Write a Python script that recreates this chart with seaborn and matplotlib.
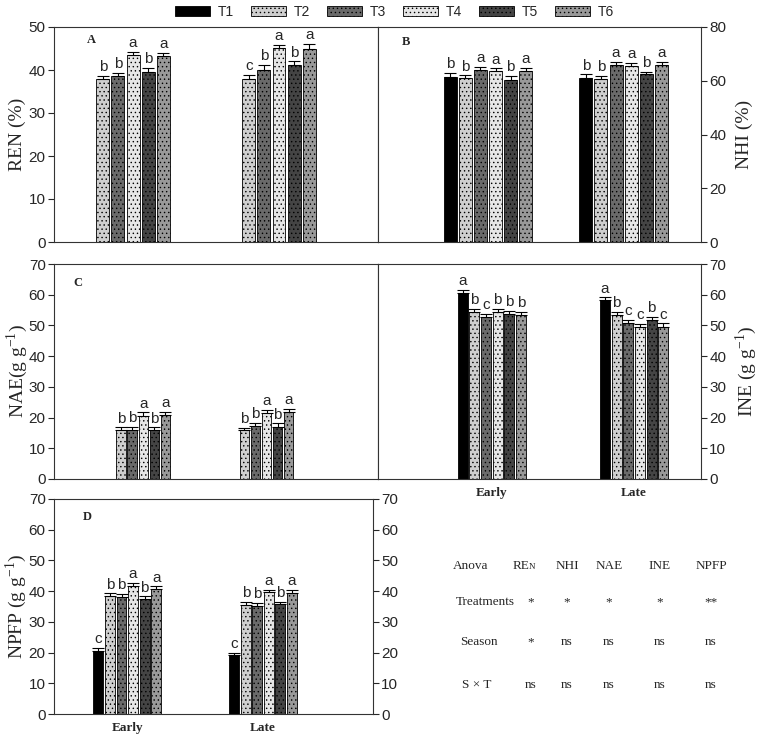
import matplotlib
matplotlib.use("Agg")
import matplotlib.pyplot as plt
import matplotlib.patches as mpatches
import pandas as pd
import seaborn as sns

seasons = ["Early", "Late"]
treatments = ["T1", "T2", "T3", "T4", "T5", "T6"]

# A: recovery efficiency of N (%)
ren_early = [0, 37.9, 38.5, 43.4, 39.5, 43.2]
ren_late = [0, 37.9, 40.1, 45.1, 41.1, 44.8]
ren_err_early = [0, 0.8, 0.9, 0.9, 1.0, 0.8]
ren_err_late = [0, 1.0, 1.1, 0.8, 0.9, 1.3]
ren_let_early = ["", "b", "b", "a", "b", "a"]
ren_let_late = ["", "c", "b", "a", "b", "a"]

# B: N harvest index (%)
nhi_early = [61.4, 61.1, 64.0, 63.8, 60.3, 63.8]
nhi_late = [61.1, 60.8, 65.9, 65.6, 62.4, 65.8]
nhi_err_early = [1.5, 0.9, 1.1, 0.8, 1.4, 1.1]
nhi_err_late = [1.3, 1.1, 1.0, 1.1, 1.0, 1.2]
nhi_let_early = ["b", "b", "a", "a", "b", "a"]
nhi_let_late = ["b", "b", "a", "a", "b", "a"]

# C: agronomic efficiency of N
nae_early = [0, 15.9, 16.1, 20.4, 15.9, 20.7]
nae_late = [0, 15.9, 17.2, 21.4, 16.8, 21.9]
nae_err_early = [0, 0.9, 0.8, 1.3, 0.9, 1.1]
nae_err_late = [0, 0.8, 1.0, 1.2, 1.3, 1.0]
nae_let_early = ["", "b", "b", "a", "b", "a"]
nae_let_late = ["", "b", "b", "a", "b", "a"]

# internal N efficiency
ine_early = [60.5, 54.3, 52.9, 54.4, 53.7, 53.4]
ine_late = [58.3, 53.4, 50.7, 49.6, 51.8, 49.6]
ine_err_early = [1.0, 1.1, 0.8, 0.9, 1.0, 1.1]
ine_err_late = [0.8, 1.1, 1.1, 0.8, 1.1, 1.1]
ine_let_early = ["a", "b", "c", "b", "b", "b"]
ine_let_late = ["a", "b", "c", "c", "b", "c"]

# D: partial factor productivity of N
npfp_early = [20.4, 38.3, 38.1, 41.6, 37.5, 40.6]
npfp_late = [19.3, 35.6, 35.3, 39.6, 35.7, 39.4]
npfp_err_early = [1.1, 1.0, 1.0, 1.2, 0.8, 1.0]
npfp_err_late = [0.6, 1.0, 1.0, 0.9, 0.8, 1.0]
npfp_let_early = ["c", "b", "b", "a", "b", "a"]
npfp_let_late = ["c", "b", "b", "a", "b", "a"]

anova_cols = ["NHI", "NAE", "INE", "NPFP"]
anova_rows = ["Treatments", "Season", "S \u00d7 T"]
anova_vals = [
    ["*", "*", "*", "*", "**"],
    ["*", "ns", "ns", "ns", "ns"],
    ["ns", "ns", "ns", "ns", "ns"],
]

colors = ["#000000", "#cfcfcf", "#6a6a6a", "#e6e6e6", "#444444", "#999999"]
hatches = [None, "....", "....", "....", "....", "...."]

sns.set_style("ticks")
plt.rcParams["font.family"] = ["Liberation Sans", "DejaVu Sans"]
plt.rcParams["mathtext.fontset"] = "custom"
plt.rcParams["mathtext.rm"] = "Liberation Serif"
plt.rcParams["hatch.linewidth"] = 0.5
SERIF = "Liberation Serif"

fig = plt.figure(figsize=(7.59, 7.35), dpi=100)


def px_axes(l, t, r, b):
    W, H = 759, 735
    return fig.add_axes([l / W, 1 - b / H, (r - l) / W, (b - t) / H])


def ylabel(ax, x, text):
    ax.text(x, 0.5, text, transform=ax.transAxes, rotation=90, ha="center",
            va="center", fontsize=14, family=SERIF)


def draw_panel(ax, early, late, err_e, err_l, let_e, let_l, width, xlim, ymax, step):
    df = pd.DataFrame({
        "season": [seasons[0]] * 6 + [seasons[1]] * 6,
        "treatment": treatments * 2,
        "value": early + late,
    })
    sns.barplot(data=df, x="season", y="value", hue="treatment", order=seasons,
                hue_order=treatments, palette=colors, width=width, gap=0.14,
                edgecolor="black", linewidth=0.6, errorbar=None, legend=False, ax=ax)
    errs = [err_e, err_l]
    lets = [let_e, let_l]
    vals = [early, late]
    bar_conts = list(ax.containers)
    for i, cont in enumerate(bar_conts):
        for j, p in enumerate(cont.patches):
            if hatches[i]:
                p.set_hatch(hatches[i])
            v = vals[j][i]
            if v <= 0:
                continue
            xc = p.get_x() + p.get_width() / 2
            e = errs[j][i]
            ax.errorbar(xc, v, yerr=[[0], [e]], fmt="none", ecolor="black",
                        elinewidth=0.8, capsize=4, capthick=0.8)
            ax.text(xc, v + e + ymax * 0.008, lets[j][i], ha="center", va="bottom",
                    fontsize=11)
    ax.set_xlim(*xlim)
    ax.set_ylim(0, ymax)
    ax.set_yticks(range(0, ymax + 1, step))
    ax.set_xlabel("")
    ax.set_ylabel("")
    ax.tick_params(axis="x", bottom=False, labelbottom=False)
    ax.tick_params(axis="y", labelsize=11, length=4, width=0.8, pad=2)
    for s in ax.spines.values():
        s.set_visible(True)
        s.set_linewidth(0.8)
        s.set_color("#333333")


def bold_xlabels(ax):
    ax.tick_params(axis="x", labelbottom=True, pad=2)
    for lab in ax.get_xticklabels():
        lab.set_fontfamily(SERIF)
        lab.set_fontweight("bold")
        lab.set_fontsize(9.5)


# panel A
axA = px_axes(54, 27, 378, 242)
draw_panel(axA, ren_early, ren_late, ren_err_early, ren_err_late, ren_let_early, ren_let_late,
           0.62, (-0.49, 1.73), 50, 10)
ylabel(axA, -0.113, "REN (%)")
axA.text(0.1, 0.925, "A", transform=axA.transAxes, fontsize=9, fontweight="bold", family=SERIF)

# panel B
axB = px_axes(378, 27, 701, 242)
draw_panel(axB, nhi_early, nhi_late, nhi_err_early, nhi_err_late, nhi_let_early, nhi_let_late,
           0.67, (-0.81, 1.57), 80, 20)
axB.yaxis.tick_right()
ylabel(axB, 1.134, "NHI (%)")
axB.text(0.075, 0.915, "B", transform=axB.transAxes, fontsize=9, fontweight="bold", family=SERIF)

# panel C
axC = px_axes(54, 264, 378, 479)
draw_panel(axC, nae_early, nae_late, nae_err_early, nae_err_late, nae_let_early, nae_let_late,
           0.54, (-0.68, 1.95), 70, 10)
ylabel(axC, -0.115, r"NAE(g g$^{\mathregular{-1}}$)")
axC.text(0.06, 0.9, "C", transform=axC.transAxes, fontsize=9, fontweight="bold", family=SERIF)

# INE panel
axE = px_axes(378, 264, 701, 479)
draw_panel(axE, ine_early, ine_late, ine_err_early, ine_err_late, ine_let_early, ine_let_late,
           0.49, (-0.80, 1.47), 70, 10)
axE.yaxis.tick_right()
ylabel(axE, 1.14, r"INE (g g$^{\mathregular{-1}}$)")
bold_xlabels(axE)

# panel D
axD = px_axes(54, 499, 373, 714)
draw_panel(axD, npfp_early, npfp_late, npfp_err_early, npfp_err_late, npfp_let_early, npfp_let_late,
           0.51, (-0.54, 1.81), 70, 10)
axD.tick_params(axis="y", right=True, labelright=True)
ylabel(axD, -0.118, r"NPFP (g g$^{\mathregular{-1}}$)")
bold_xlabels(axD)
axD.text(0.09, 0.9, "D", transform=axD.transAxes, fontsize=9, fontweight="bold", family=SERIF)

# legend
handles = [mpatches.Patch(facecolor=c, edgecolor="black", linewidth=0.6, hatch=h, label=t)
           for c, h, t in zip(colors, hatches, treatments)]
fig.legend(handles=handles, loc="upper center", bbox_to_anchor=(0.52, 1.01), ncol=6,
           frameon=False, fontsize=10, handlelength=2.5, handleheight=0.75,
           columnspacing=1.2, handletextpad=0.6)

# ANOVA summary
W, H = 759, 735
col_x = [531, 567, 609, 660, 711]
row_y = [602, 642, 685]
fs = 9.5
fig.text(453 / W, 1 - 566 / H, "Anova", fontsize=fs, family=SERIF, va="center")
fig.text(513 / W, 1 - 566 / H, "RE", fontsize=fs, family=SERIF, va="center")
fig.text(528.5 / W, 1 - 567 / H, "N", fontsize=6.5, family=SERIF, va="center")
for name, x in zip(anova_cols, col_x[1:]):
    fig.text(x / W, 1 - 566 / H, name, fontsize=fs, family=SERIF, ha="center", va="center")
for name, y, vals, x0 in zip(anova_rows, row_y, anova_vals, [456, 460, 462]):
    fig.text(x0 / W, 1 - y / H, name, fontsize=fs, family=SERIF, va="center")
    for v, x in zip(vals, col_x):
        fig.text(x / W, 1 - y / H, v, fontsize=fs, family=SERIF, ha="center", va="center")

fig.savefig("out.png", dpi=100)
